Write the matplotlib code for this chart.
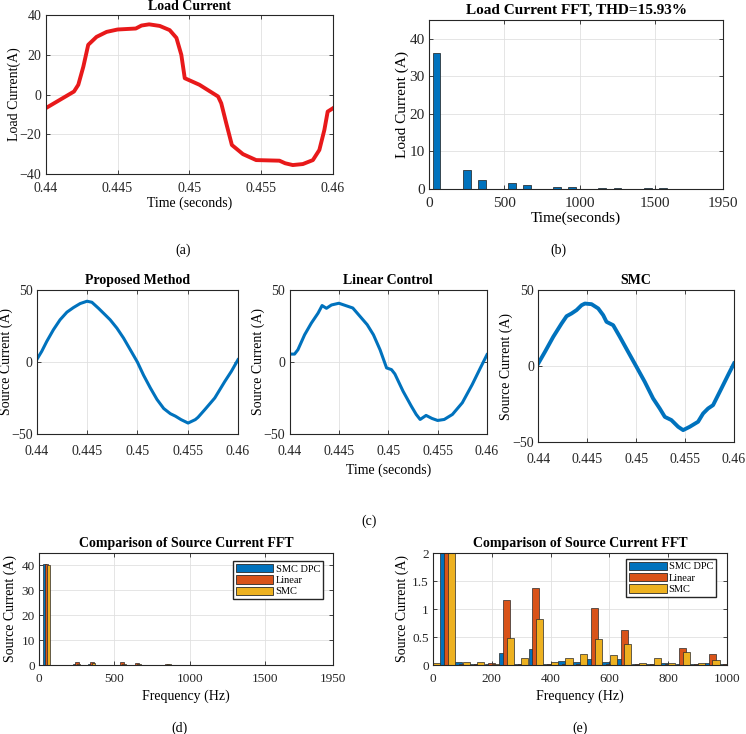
import numpy as np
import matplotlib
matplotlib.use('Agg')
from matplotlib import pyplot as plt
from matplotlib.patches import Patch

plt.rcParams['font.family'] = ['Liberation Serif', 'DejaVu Serif']

# ---- (a) load current ----
t_load = [0.44, 0.44197, 0.44227, 0.44262, 0.44296, 0.44354, 0.44424, 0.445, 0.44627,
          0.44667, 0.4472, 0.44794, 0.44863, 0.4491, 0.44944, 0.44968, 0.4507, 0.452,
          0.45222, 0.45257, 0.45296, 0.45373, 0.45465, 0.45627, 0.45667, 0.4572, 0.4579,
          0.4586, 0.45905, 0.4594, 0.45963, 0.46]
i_load = [-6.9, 1.5, 4.9, 14, 25, 29, 31.5, 32.7, 33.2, 34.7, 35.3, 34.5, 32.4, 28.5, 20,
          8.2, 4.9, -1, -4.4, -14.5, -25.4, -30, -33, -33.3, -34.6, -35.5, -35, -33, -27.9,
          -17.8, -8.6, -6.9]

# ---- (b) load current FFT ----
f_load = np.arange(0, 2000, 50)
mag_load = [0, 36.3, 0.05, 0.05, 0.05, 4.95, 0.05, 2.45, 0.05, 0.05,
            0.05, 1.6, 0.05, 1.05, 0.05, 0.05, 0.05, 0.6, 0.05, 0.5,
            0.05, 0.05, 0.05, 0.28, 0.05, 0.25, 0.05, 0.05, 0.05, 0.17,
            0.05, 0.15, 0.05, 0.05, 0.05, 0.12, 0.05, 0.12, 0.05, 0.05]

# ---- (c) source currents ----
t_prop = [0.44, 0.4405, 0.441, 0.44166, 0.44232, 0.443, 0.44365, 0.44432, 0.445, 0.44548,
          0.44614, 0.44681, 0.4473, 0.44797, 0.44863, 0.4493, 0.45, 0.45062, 0.45129,
          0.45195, 0.45262, 0.45328, 0.45378, 0.45434, 0.45504, 0.45576, 0.45603, 0.4567,
          0.45769, 0.45869, 0.45934, 0.46]
i_prop = [1.6, 7.4, 14.3, 22.4, 29.3, 34.6, 37.8, 40.6, 42.2, 41.5, 37.3, 32.7, 29.3, 23.5,
          16.6, 8.5, 0, -9.2, -18, -26, -32.3, -35.9, -37.6, -40, -42.4, -40, -38.4, -33.1,
          -25, -13.5, -6.5, 1.6]

t_lin = [0.44, 0.44051, 0.44085, 0.44153, 0.44221, 0.44289, 0.4433, 0.44374, 0.44425, 0.445,
         0.44641, 0.44787, 0.4485, 0.44917, 0.44983, 0.45033, 0.45067, 0.4515, 0.45233,
         0.45283, 0.45323, 0.45383, 0.45443, 0.455, 0.45567, 0.4565, 0.4575, 0.4585,
         0.45933, 0.46]
i_lin = [5.5, 5.5, 8.5, 18.9, 27, 33.9, 39.2, 37.3, 39.6, 40.8, 37.5, 25.9, 18.9, 8.5, -4.1,
         -5.3, -8.3, -20.3, -30.6, -36.4, -39.9, -37.1, -39.2, -40.6, -39.9, -36.4, -28.3,
         -15.7, -4.1, 5.1]

t_smc = [0.44, 0.44068, 0.44153, 0.44238, 0.44289, 0.4434, 0.44391, 0.44442, 0.44476,
         0.44544, 0.44612, 0.44663, 0.44697, 0.44765, 0.44833, 0.44918, 0.45003, 0.45088,
         0.45173, 0.45241, 0.45293, 0.4536, 0.45429, 0.4548, 0.45548, 0.45633, 0.45684,
         0.45735, 0.45786, 0.45871, 0.45939, 0.46]
i_smc = [1.8, 9.4, 19.3, 28, 32.8, 34.6, 36.8, 40, 41.1, 40.7, 37.9, 33.5, 29.1, 26.9, 19.3,
         9.4, -0.4, -10.3, -21.2, -27.8, -33.3, -35.4, -39.8, -42, -39.8, -36.5, -31.1,
         -27.8, -25.6, -14.7, -5.9, 1.8]

# ---- (d)/(e) source current FFT comparison ----
f_src = np.arange(0, 2000, 50)
mag_dpc = [0, 40.5, 0.05, 0.01, 0.025, 0.22, 0.01, 0.29, 0.02, 0.07,
           0.05, 0.11, 0.05, 0.11, 0.01, 0.01, 0.03, 0.01, 0.01, 0.03,
           0.01, 0.01, 0.01, 0.02, 0.01, 0.02, 0.01, 0.01, 0.01, 0.01,
           0.01, 0.01, 0.01, 0.01, 0.01, 0.01, 0.01, 0.01, 0.01, 0.01]
mag_lin = [0, 40.7, 0.02, 0.01, 0.035, 1.16, 0.02, 1.37, 0.02, 0.01,
           0.01, 1.01, 0.01, 0.63, 0.01, 0.02, 0.02, 0.31, 0.01, 0.19,
           0.01, 0.01, 0.01, 0.08, 0.01, 0.06, 0.01, 0.01, 0.01, 0.03,
           0.01, 0.03, 0.01, 0.01, 0.01, 0.02, 0.01, 0.02, 0.01, 0.01]
mag_smc = [0.03, 40.3, 0.05, 0.05, 0.01, 0.48, 0.12, 0.82, 0.05, 0.12,
           0.19, 0.46, 0.17, 0.37, 0.04, 0.12, 0.04, 0.24, 0.03, 0.09,
           0.02, 0.03, 0.02, 0.05, 0.02, 0.04, 0.02, 0.02, 0.02, 0.03,
           0.02, 0.03, 0.02, 0.02, 0.02, 0.02, 0.02, 0.02, 0.02, 0.02]
series_names = ['SMC DPC', 'Linear', 'SMC']
series_colors = ['#0072BD', '#D95319', '#EDB120']

W, H = 746, 734
fig = plt.figure(figsize=(W / 100, H / 100), dpi=100)


def add_ax(l, t, r, b, fs=10, xpad=6):
    ax = fig.add_axes([l / W, 1 - b / H, (r - l) / W, (b - t) / H])
    ax.grid(True, color='#e0e0e0', lw=0.6)
    ax.set_axisbelow(True)
    ax.tick_params(direction='in', top=True, right=True, length=3, width=0.6,
                   labelsize=fs, colors='#262626', pad=3)
    ax.tick_params(axis='x', pad=xpad)
    for s in ax.spines.values():
        s.set_linewidth(0.8)
        s.set_color('#262626')
    return ax


def labels(ax, box, title, ty, xlabel, xy, ylabel, yx, fs=10):
    # place title / axis labels at pixel positions
    l, t, r, b = box
    if title:
        ax.text(0.5, (b - ty) / (b - t), title, transform=ax.transAxes, ha='center',
                va='center', fontsize=fs, fontweight='bold')
    if xlabel:
        ax.set_xlabel(xlabel, fontsize=fs)
        ax.xaxis.set_label_coords(0.5, (b - xy) / (b - t))
        ax.xaxis.label.set_va('center')
    if ylabel:
        ax.set_ylabel(ylabel, fontsize=fs)
        ax.yaxis.set_label_coords((yx - l) / (r - l), 0.5)
        ax.yaxis.label.set_va('center')


time_ticks = [0.44, 0.445, 0.45, 0.455, 0.46]
time_labels = ['0.44', '0.445', '0.45', '0.455', '0.46']

# (a)
box = (45.7, 15, 333, 174)
ax = add_ax(*box, xpad=5.5)
ax.plot(t_load, i_load, color='#E8191A', lw=2.8)
ax.set_xlim(0.44, 0.46)
ax.set_ylim(-40, 40)
ax.set_xticks(time_ticks)
ax.set_xticklabels(time_labels)
ax.set_yticks([-40, -20, 0, 20, 40])
labels(ax, box, 'Load Current', 7, 'Time (seconds)', 203, 'Load Current(A)', 14.5)

# (b)
box = (429, 20, 723, 189)
ax = add_ax(*box, fs=11, xpad=5.5)
ax.bar(f_load, mag_load, width=52, color='#0072BD', edgecolor='#1a1a1a', lw=0.5)
ax.set_xlim(0, 1950)
ax.set_ylim(0, 45)
ax.set_xticks([0, 500, 1000, 1500, 1950])
ax.set_yticks([0, 10, 20, 30, 40])
labels(ax, box, 'Load Current FFT, THD=15.93%', 10, 'Time(seconds)', 218,
       'Load Current (A)', 402.5, fs=11)

# (c)
panels = [((36.7, 290, 238, 434), t_prop, i_prop, 'Proposed Method', 2.2, 6),
          ((289.5, 290, 487, 434), t_lin, i_lin, 'Linear Control', 2.2, 258),
          ((538.3, 290, 734, 442.3), t_smc, i_smc, 'SMC', 2.8, 506)]
for k, (box, tt, ii, name, lw, ylx) in enumerate(panels):
    ax = add_ax(*box, xpad=8)
    ax.plot(tt, ii, color='#0072BD', lw=lw)
    ax.set_xlim(0.44, 0.46)
    ax.set_ylim(-50, 50)
    ax.set_xticks(time_ticks)
    ax.set_xticklabels(time_labels)
    ax.set_yticks([-50, 0, 50])
    labels(ax, box, name, 281, 'Time (seconds)' if k == 1 else None, 470,
           'Source Current (A)', ylx)

# (d) and (e)
offsets = [-12.5, 0, 12.5]
for box, xmax, ymax, xt, yt, ytl, ylx, anchor in [
        ((39, 553, 333, 665), 1950, 45, [0, 500, 1000, 1500, 1950], [0, 10, 20, 30, 40],
         None, 10, (0.966, 0.93)),
        ((433, 553, 727, 665), 1000, 2, [0, 200, 400, 600, 800, 1000], [0, 0.5, 1, 1.5, 2],
         ['0', '0.5', '1', '1.5', '2'], 402.5, (0.963, 0.95))]:
    ax = add_ax(*box, fs=9.5, xpad=6)
    for vals, off, c in zip([mag_dpc, mag_lin, mag_smc], offsets, series_colors):
        ax.bar(f_src + off, vals, width=24, color=c, edgecolor='#2a2a2a', lw=0.5)
    ax.set_xlim(0, xmax)
    ax.set_ylim(0, ymax)
    ax.set_xticks(xt)
    ax.set_yticks(yt)
    if ytl:
        ax.set_yticklabels(ytl)
    labels(ax, box, 'Comparison of Source Current FFT', 543, 'Frequency (Hz)', 696,
           'Source Current (A)', ylx)
    handles = [Patch(facecolor=c, edgecolor='#2a2a2a', lw=0.6) for c in series_colors]
    ax.legend(handles, series_names, loc='upper right', fontsize=7.5, fancybox=False,
              edgecolor='#262626', framealpha=1, handlelength=3.6, handleheight=0.85,
              labelspacing=0.15, borderpad=0.3, handletextpad=0.2, borderaxespad=0,
              bbox_to_anchor=anchor)

for lab, x, y in [('(a)', 183, 250), ('(b)', 558, 250), ('(c)', 369, 521),
                  ('(d)', 180, 728), ('(e)', 580, 728)]:
    fig.text(x / W, 1 - y / H, lab, ha='center', va='center', fontsize=10)

plt.savefig('out.png', dpi=100)
